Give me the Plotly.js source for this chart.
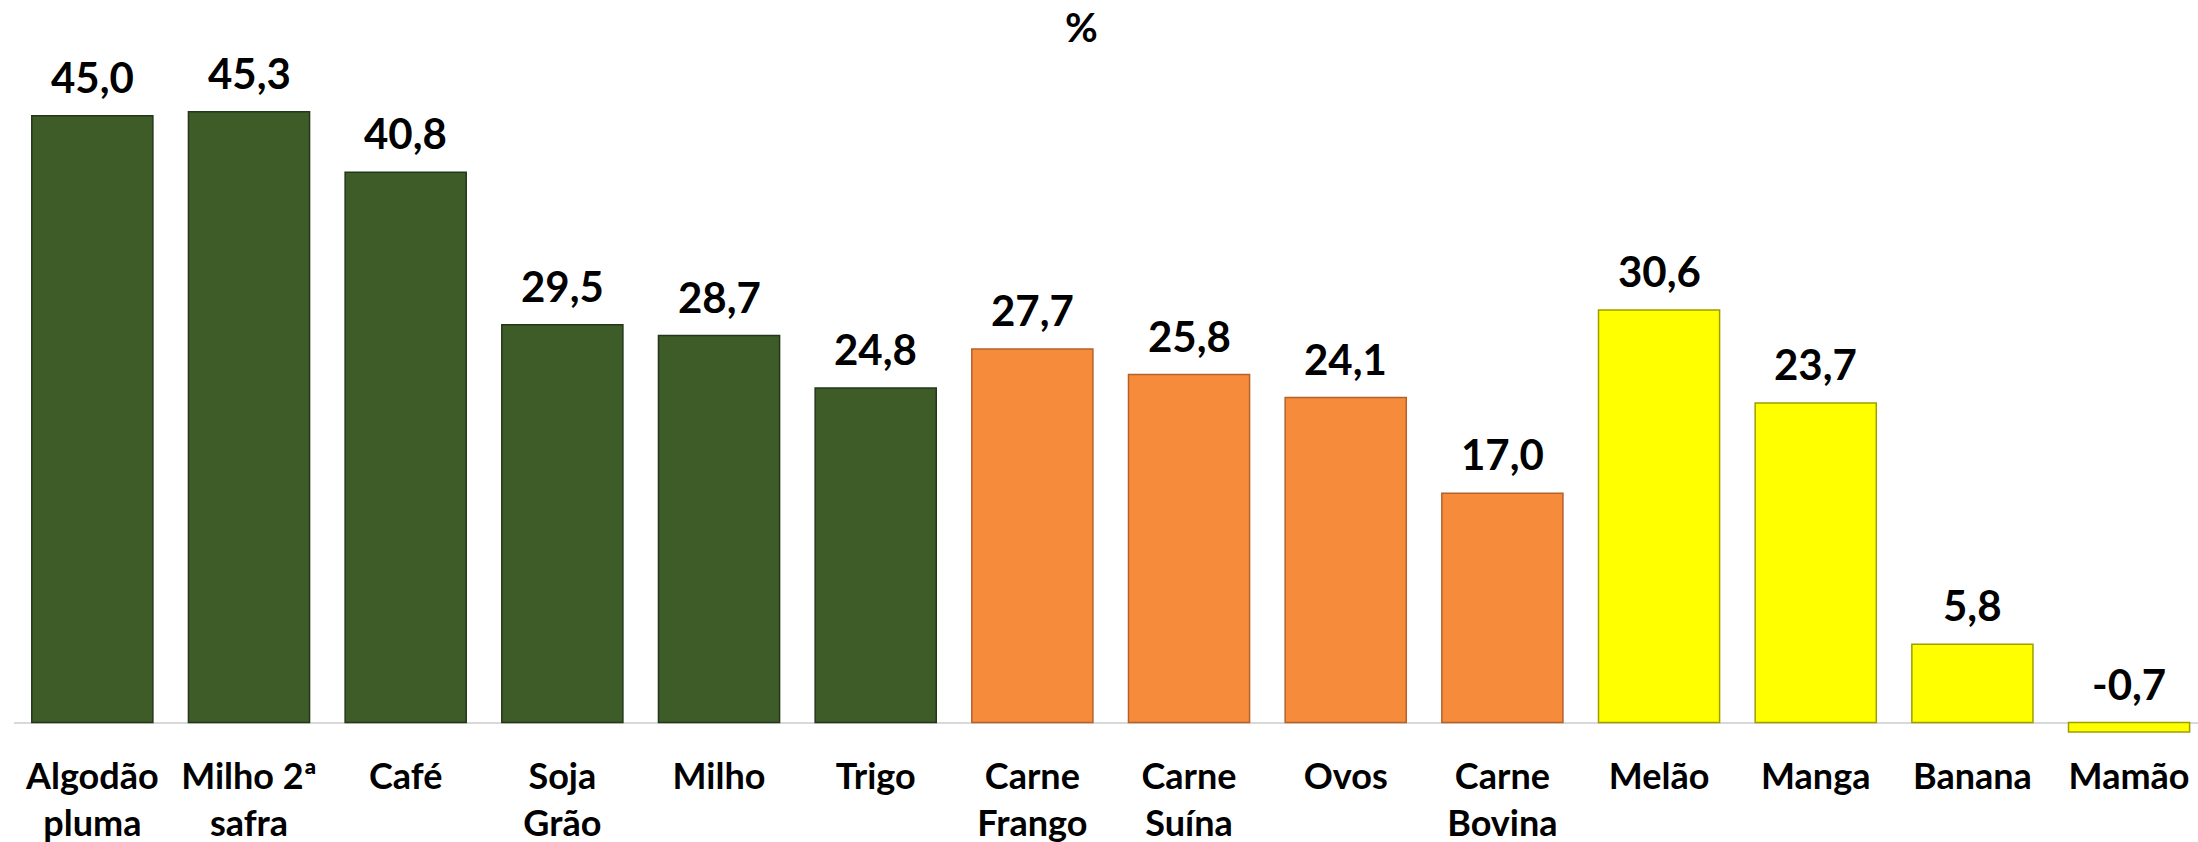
<!DOCTYPE html>
<html>
<head>
<meta charset="utf-8">
<script src="https://cdn.plot.ly/plotly-3.0.1.min.js"></script>
<style>html,body{margin:0;padding:0;background:#fff;}#chart{width:2198px;height:842px;}</style>
</head>
<body>
<div id="chart"></div>
<script>
const categories = ["Algodão pluma","Milho 2ª safra","Café","Soja Grão","Milho","Trigo","Carne Frango","Carne Suína","Ovos","Carne Bovina","Melão","Manga","Banana","Mamão"];
const tickLabels = ["Algodão<br>pluma","Milho 2ª<br>safra","Café","Soja<br>Grão","Milho","Trigo","Carne<br>Frango","Carne<br>Suína","Ovos","Carne<br>Bovina","Melão","Manga","Banana","Mamão"];
const values = [45.0,45.3,40.8,29.5,28.7,24.8,27.7,25.8,24.1,17.0,30.6,23.7,5.8,-0.7];
const groups = ["grain","grain","grain","grain","grain","grain","meat","meat","meat","meat","fruit","fruit","fruit","fruit"];
const groupColors = {grain:"#3E5C28", meat:"#F68B3C", fruit:"#FFFF00"};
const groupLines = {grain:"#24361A", meat:"#B5622A", fruit:"#9E9E00"};

const FONT = "Lato, 'Open Sans', sans-serif";

const trace = {
  type: "bar",
  x: categories,
  y: values,
  marker: {
    color: groups.map(g => groupColors[g]),
    line: {color: groups.map(g => groupLines[g]), width: 1.5}
  },
  hoverinfo: "x+y"
};

const annotations = categories.map((c, i) => ({
  x: c,
  y: Math.max(values[i], 0),
  xref: "x", yref: "y",
  text: values[i].toFixed(1).replace(".", ","),
  showarrow: false,
  yanchor: "bottom",
  yshift: 12,
  font: {family: FONT, size: 42, color: "#000", weight: "bold"}
}));

const layout = {
  width: 2198, height: 842,
  margin: {l: 14, r: 0, t: 40, b: 100},
  paper_bgcolor: "#fff", plot_bgcolor: "#fff",
  showlegend: false,
  bargap: 0.227,
  title: {
    text: "<b>%</b>",
    x: 0.492, xref: "container", xanchor: "center",
    y: 0.967, yref: "container", yanchor: "middle",
    font: {family: FONT, size: 40, color: "#000"}
  },
  xaxis: {
    type: "category",
    tickvals: categories,
    ticktext: tickLabels,
    range: [-0.5, 13.44],
    showgrid: false, showline: false, zeroline: false,
    ticks: "",
    tickfont: {family: FONT, size: 36, color: "#000", weight: "bold"},
    ticklabelstandoff: 10
  },
  yaxis: {
    range: [-1.446, 50.614],
    showgrid: false, showticklabels: false, ticks: "",
    showline: false,
    zeroline: true, zerolinecolor: "#D9D9D9", zerolinewidth: 2
  },
  annotations: annotations
};

Plotly.newPlot("chart", [trace], layout, {displayModeBar: false, staticPlot: true});
</script>
</body>
</html>
